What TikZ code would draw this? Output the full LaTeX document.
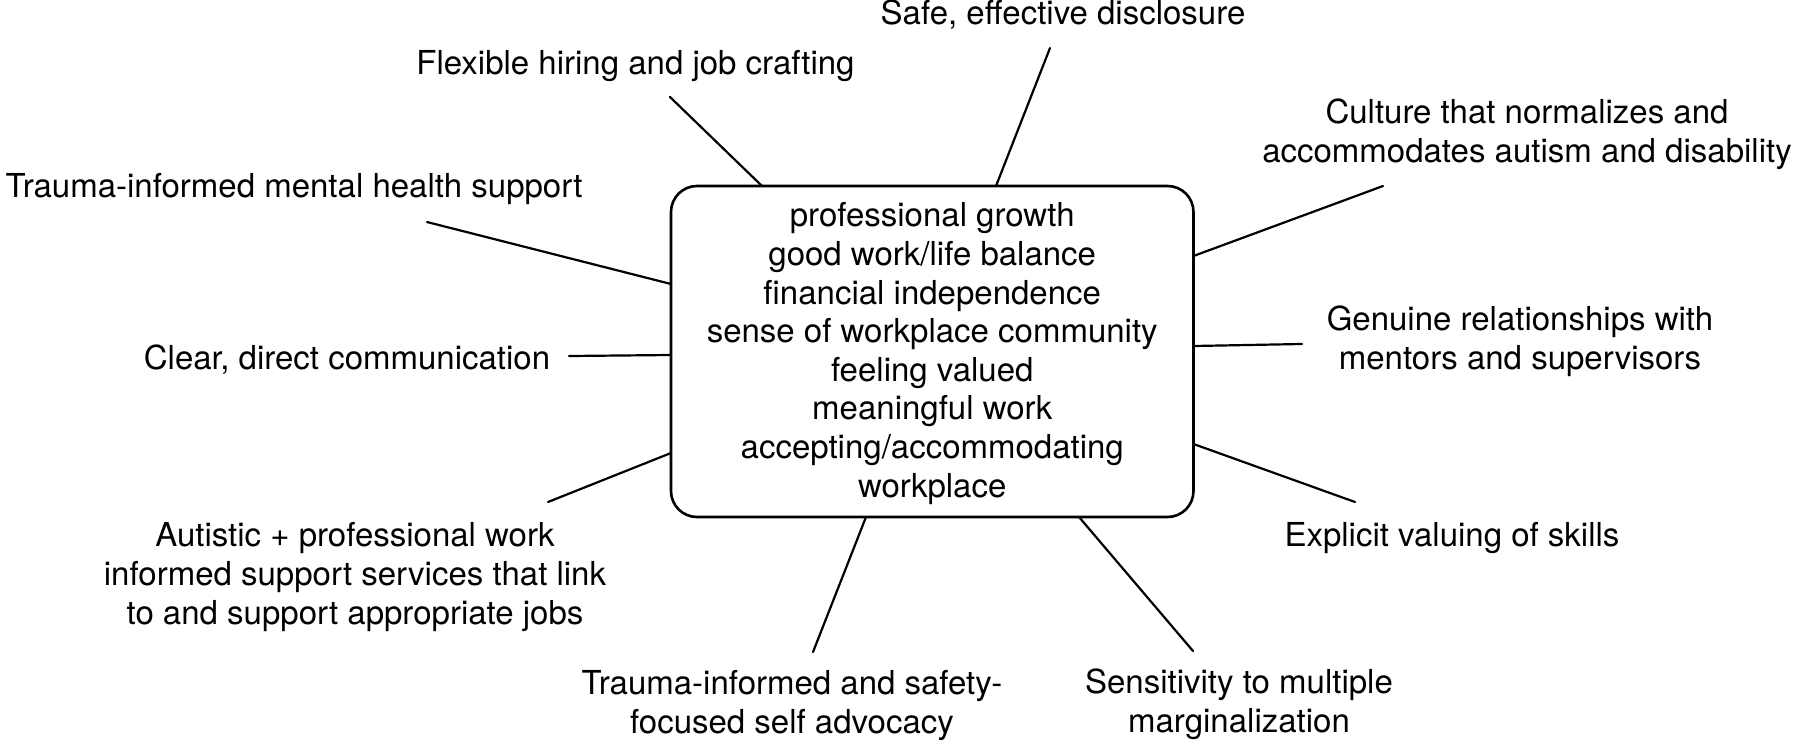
\documentclass[tikz,border=0pt]{standalone}
\usepackage{fontspec}
\setmainfont{TeX Gyre Heros}
\begin{document}
\begin{tikzpicture}[x=1pt,y=-1pt,
  lbl/.style={font=\fontsize{33}{39}\selectfont, align=center, anchor=base, inner sep=0pt},
  conn/.style={line width=2.2pt, line cap=round},
  corebox/.style={draw, line width=2.6pt, rounded corners=26pt, minimum width=522.5pt,
    minimum height=331pt, inner sep=0pt, outer sep=0pt, align=center,
    font=\fontsize{33}{38.6}\selectfont}]
\useasboundingbox (0,0) rectangle (1800,742);
\node[corebox] (core) at (932.25,351.5) {\rule{0pt}{28pt}professional growth\\good work/life balance\\financial independence\\sense of workplace community\\feeling valued\\meaningful work\\accepting/accommodating\\workplace};
\node[lbl] (safe) at (1063,24) {Safe, effective disclosure};
\node[lbl] (flex) at (635.5,74) {Flexible hiring and job crafting};
\node[lbl] (ment) at (294,197) {Trauma-informed mental health support};
\node[lbl] (cult) at (1527,162) {Culture that normalizes and\\accommodates autism and disability};
\node[lbl] (genu) at (1520,369) {Genuine relationships with\\mentors and supervisors};
\node[lbl] (clear) at (347,369) {Clear, direct communication};
\node[lbl] (expl) at (1452,546) {Explicit valuing of skills};
\node[lbl] (auti) at (355,624) {Autistic + professional work\\informed support services that link\\to and support appropriate jobs};
\node[lbl] (safety) at (792,733) {Trauma-informed and safety-\\focused self advocacy};
\node[lbl] (sens) at (1239,732) {Sensitivity to multiple\\marginalization};
\coordinate (flexend) at (670,97);
\coordinate (safeend) at (1050,48);
\coordinate (cultend) at (1383,186);
\coordinate (genuend) at (1302,344);
\coordinate (explend) at (1355,502);
\coordinate (sensend) at (1193,651);
\coordinate (safetyend) at (813,652);
\coordinate (autiend) at (548,502);
\coordinate (clearend) at (569,356);
\coordinate (mentend) at (427,222);
\draw[conn] (flexend) -- ([xshift=91pt]core.north west);
\draw[conn] (safeend) -- ([xshift=325pt]core.north west);
\draw[conn] (cultend) -- ([yshift=-70pt]core.north east);
\draw[conn] (genuend) -- ([yshift=-160pt]core.north east);
\draw[conn] (explend) -- ([yshift=-258pt]core.north east);
\draw[conn] (sensend) -- ([xshift=408pt]core.south west);
\draw[conn] (safetyend) -- ([xshift=195pt]core.south west);
\draw[conn] (autiend) -- ([yshift=-267pt]core.north west);
\draw[conn] (clearend) -- ([yshift=-169pt]core.north west);
\draw[conn] (mentend) -- ([yshift=-98pt]core.north west);
\end{tikzpicture}
\end{document}
